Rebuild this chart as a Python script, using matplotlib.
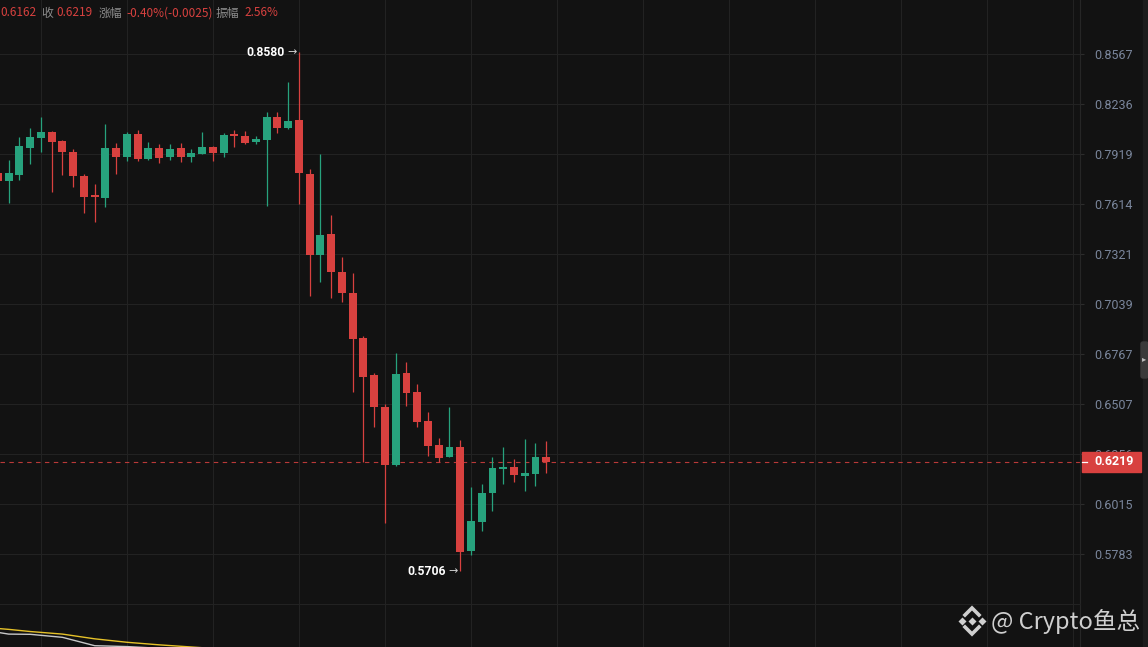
import matplotlib.pyplot as plt
import matplotlib.patches as patches
from matplotlib.ticker import FixedLocator, FixedFormatter, NullLocator
import numpy as np

# candle data (price)
opens = [0.7803, 0.7754, 0.7791, 0.7959, 0.8022, 0.8059, 0.8001, 0.7932, 0.7785, 0.7669,
         0.7652, 0.7957, 0.7903, 0.8046, 0.7888, 0.7957, 0.7903, 0.7957, 0.7903, 0.7921,
         0.7963, 0.7928, 0.8048, 0.8033, 0.7997, 0.8008, 0.8154, 0.8086, 0.8135, 0.7797,
         0.7317, 0.7438, 0.7220, 0.7101, 0.6854, 0.6658, 0.6492, 0.6204, 0.6668, 0.6569,
         0.6422, 0.6302, 0.6243, 0.6291, 0.5798, 0.5933, 0.6069, 0.6184, 0.6192, 0.6151,
         0.6161, 0.6244]
highs = [0.7815, 0.7882, 0.8027, 0.8084, 0.8154, 0.8065, 0.8008, 0.7953, 0.7797, 0.7734,
         0.8111, 0.7991, 0.8059, 0.8071, 0.7996, 0.7982, 0.7982, 0.7987, 0.7951, 0.8059,
         0.7970, 0.8050, 0.8071, 0.8067, 0.8033, 0.8185, 0.8185, 0.8382, 0.8580, 0.7828,
         0.7919, 0.7550, 0.7304, 0.7212, 0.6865, 0.6670, 0.6507, 0.6772, 0.6727, 0.6609,
         0.6467, 0.6335, 0.6493, 0.6326, 0.6096, 0.6111, 0.6243, 0.6292, 0.6232, 0.6331,
         0.6313, 0.6322]
lows = [0.7742, 0.7620, 0.7760, 0.7858, 0.7932, 0.7687, 0.7791, 0.7719, 0.7560, 0.7510,
        0.7598, 0.7797, 0.7878, 0.7878, 0.7882, 0.7866, 0.7882, 0.7872, 0.7872, 0.7918,
        0.7876, 0.7903, 0.7965, 0.7985, 0.7982, 0.7602, 0.8054, 0.8076, 0.7612, 0.7086,
        0.7161, 0.7075, 0.7052, 0.6568, 0.6219, 0.6393, 0.5925, 0.6198, 0.6498, 0.6393,
        0.6248, 0.6219, 0.6240, 0.5706, 0.5779, 0.5891, 0.5984, 0.6111, 0.6118, 0.6079,
        0.6102, 0.6162]
closes = [0.7754, 0.7803, 0.7970, 0.8027, 0.8059, 0.7997, 0.7934, 0.7781, 0.7659, 0.7659,
          0.7957, 0.7903, 0.8046, 0.7888, 0.7957, 0.7896, 0.7951, 0.7903, 0.7925, 0.7963,
          0.7928, 0.8040, 0.8035, 0.7989, 0.8014, 0.8154, 0.8086, 0.8128, 0.7801, 0.7317,
          0.7432, 0.7216, 0.7099, 0.6850, 0.6649, 0.6490, 0.6204, 0.6663, 0.6566, 0.6418,
          0.6298, 0.6238, 0.6291, 0.5794, 0.5935, 0.6067, 0.6187, 0.6192, 0.6156, 0.6164,
          0.6244, 0.6219]

price_ticks = [0.5783, 0.6015, 0.6256, 0.6507, 0.6767, 0.7039, 0.7321, 0.7614, 0.7919, 0.8236, 0.8567]
last_close = 0.6219

# lower indicator panel lines
ind_x = [0, 1, 3, 6, 9, 12, 15, 18, 21]
ind_yellow = [43, 41, 36, 30, 19, 11, 5, 0, -5]
ind_white = [34, 30, 29.5, 22.5, 3, 1, -3, -6, -9]

header = [("0.6162", 0, "v"), ("收", 41, "l"), ("0.6219", 56, "v"), ("涨幅", 99, "l"),
          ("-0.40%(-0.0025)", 126, "v"), ("振幅", 216, "l"), ("2.56%", 244, "v")]

BG = '#121212'
GRID = '#222222'
RED = '#d8413f'
GREEN = '#27a27d'
TICK = '#7a869c'
W, H = 1148, 647

plt.rcParams['font.family'] = ['Noto Sans CJK SC', 'DejaVu Sans']

fig = plt.figure(figsize=(W / 100, H / 100), dpi=100, facecolor=BG)
ax = fig.add_axes([0, 43 / H, 1080 / W, 604 / H], facecolor=BG)

o = np.array(opens); c = np.array(closes); hi = np.array(highs); lo = np.array(lows)
x = np.arange(len(o))
cols = np.where(c >= o, GREEN, RED)
ax.vlines(x, lo, hi, colors=cols, lw=0.9, zorder=3)
bot = np.minimum(o, c)
top = np.maximum(np.maximum(o, c), bot * 1.0013)
ax.bar(x, top - bot, bottom=bot, width=0.74, color=cols, linewidth=0, zorder=4)

ax.set_yscale('log')
ax.set_ylim(0.5561, 0.8938)
ax.set_xlim(0.19, 100.65)
ax.yaxis.set_major_locator(FixedLocator(price_ticks))
ax.yaxis.set_major_formatter(FixedFormatter([f"{v:.4f}" for v in price_ticks]))
ax.yaxis.set_minor_locator(NullLocator())
ax.yaxis.tick_right()
ax.tick_params(axis='y', colors='#2c2c2c', labelcolor=TICK, length=3, width=0.8, pad=7, labelsize=9)
for lab in ax.get_yticklabels():
    lab.set_family(['Roboto', 'DejaVu Sans'])
ax.set_xticks(np.arange(4, 101, 8))
ax.tick_params(axis='x', length=0, labelbottom=False)
ax.grid(True, color=GRID, lw=0.8, zorder=0)
for s in ['top', 'left', 'bottom']:
    ax.spines[s].set_visible(False)
ax.spines['right'].set_color('#262626')

# last price line and box (covers the 0.6256 label as in the app)
ax.axhline(last_close, color=RED, lw=0.8, ls=(0, (4, 4)), alpha=0.85, zorder=2)
yt = ax.get_yaxis_transform()
half = np.exp(10 / 1272.3)
ax.add_patch(patches.Rectangle((1.0019, last_close / half), 59 / 1080, last_close * half - last_close / half,
                               transform=yt, color=RED, clip_on=False, zorder=10))
ax.plot([1.0019, 1.0065], [last_close, last_close], transform=yt, color='white', lw=0.9, clip_on=False, zorder=11)
ax.text(1.0130, last_close, f"{last_close:.4f}", transform=yt, color='white', fontsize=9,
        fontweight='bold', va='center', ha='left', family=['Roboto', 'DejaVu Sans'], zorder=12, clip_on=False)

# high / low markers
ih = int(np.argmax(hi)); il = int(np.argmin(lo))
for idx, val in [(ih, hi[ih]), (il, lo[il])]:
    ax.annotate('→', xy=(idx, val), xytext=(-1.5, 0), textcoords='offset points', ha='right', va='center',
                color='#cfcfcf', fontsize=8, family=['DejaVu Sans'])
    ax.annotate(f"{val:.4f}", xy=(idx, val), xytext=(-10.5, 0), textcoords='offset points', ha='right',
                va='center', color='white', fontsize=8.7, fontweight='bold', family=['Roboto', 'DejaVu Sans'])

# lower indicator panel
ax2 = fig.add_axes([0, 0, 1080 / W, 43 / H], facecolor=BG)
ax2.plot(ind_x, ind_yellow, color='#e6c229', lw=1.0)
ax2.plot(ind_x, ind_white, color='#c8c8c8', lw=1.0)
ax2.set_xlim(0.19, 100.65)
ax2.set_ylim(0, 100)
ax2.set_xticks(np.arange(4, 101, 8))
ax2.set_yticks([])
ax2.tick_params(axis='x', length=0, labelbottom=False)
ax2.grid(True, axis='x', color=GRID, lw=0.8)
for s in ['left', 'bottom']:
    ax2.spines[s].set_visible(False)
ax2.spines['top'].set_color(GRID)
ax2.spines['right'].set_color('#262626')

# header text
for txt, px, kind in header:
    fig.text(px / W, 1 - 13 / H, txt, color=RED if kind == 'v' else '#8c8c8c', fontsize=8.5,
             va='center', ha='left')

# overlay for decorations (pixel coords)
ov = fig.add_axes([0, 0, 1, 1], facecolor='none')
ov.set_xlim(0, W); ov.set_ylim(H, 0); ov.axis('off')
ov.add_patch(patches.Rectangle((1143, 0), 5, H, color='#1c1c1c'))
ov.add_patch(patches.FancyBboxPatch((1141, 342), 7, 36, boxstyle='round,pad=0,rounding_size=2', color='#3a3a3a'))
ov.text(1144.5, 359, '▸', color='#bdbdbd', fontsize=6, ha='center', va='center', family=['DejaVu Sans'])

# watermark
lc = '#cfcfcf'
ov.plot([962, 982, 972], [621, 621, 621], 'D', color=lc, ms=4.5, mec='none')
ov.plot([965, 972, 979], [615, 608, 615], color=lc, lw=2.6, solid_joinstyle='miter')
ov.plot([965, 972, 979], [627, 634, 627], color=lc, lw=2.6, solid_joinstyle='miter')
ov.text(991, 621, '@ Crypto鱼总', color=lc, fontsize=17, ha='left', va='center')

fig.savefig('out.png', dpi=100, facecolor=BG)
